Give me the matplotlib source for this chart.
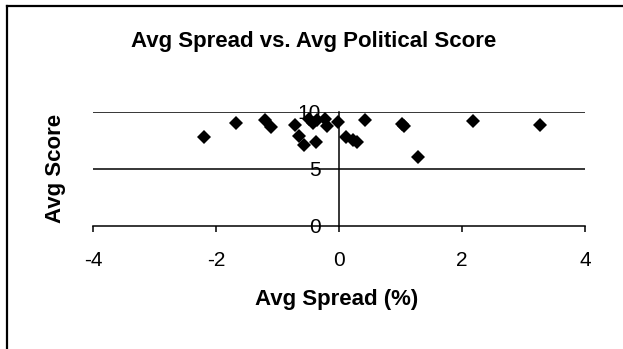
import matplotlib
matplotlib.use("Agg")
import matplotlib.pyplot as plt
from matplotlib.lines import Line2D

# Average spread (%) and average political score per entity
avg_spread = [-2.19, -1.67, -1.20, -1.10, -0.71, -0.65, -0.57, -0.38, -0.49, -0.43,
              -0.35, -0.22, -0.19, -0.02, 0.12, 0.22, 0.29, 0.43, 1.02, 1.06,
              1.28, 2.18, 3.27]
avg_score = [7.75, 9.0, 9.25, 8.65, 8.87, 7.9, 7.05, 7.35, 9.4, 9.0,
             9.3, 9.4, 8.75, 9.1, 7.8, 7.55, 7.3, 9.25, 8.9, 8.7,
             6.0, 9.15, 8.85]

x_ticks = [-4, -2, 0, 2, 4]
y_ticks = [0, 5, 10]

plt.rcParams['font.family'] = ['Liberation Sans', 'DejaVu Sans']

W, H = 623, 349
fig = plt.figure(figsize=(W / 100, H / 100), dpi=100)
fig.patch.set_facecolor('white')

# plot area in pixel terms
left, right, top, bottom = 93, 585, 111.7, 225.5
ax = fig.add_axes([left / W, 1 - bottom / H, (right - left) / W, (bottom - top) / H])
ax.set_xlim(-4, 4)
ax.set_ylim(0, 10)

for s in ['top', 'right']:
    ax.spines[s].set_visible(False)
ax.spines['left'].set_position(('data', 0))
ax.spines['left'].set_linewidth(1.1)
ax.spines['bottom'].set_linewidth(1.1)

ax.set_xticks(x_ticks)
ax.set_xticklabels([str(v) for v in x_ticks])
ax.set_yticks(y_ticks)
ax.set_yticklabels([str(v) for v in y_ticks])
ax.tick_params(axis='x', direction='out', length=4, width=1.1, pad=14, labelsize=15)
ax.tick_params(axis='y', length=0, pad=13, labelsize=15)

for v in y_ticks[1:]:
    ax.axhline(v, color='black', lw=1.1, zorder=1)

ax.plot(avg_spread, avg_score, linestyle='none', marker='D', markersize=7,
        color='black', markeredgewidth=0, clip_on=False, zorder=3)

fig.text(314 / W, 1 - 42 / H, 'Avg Spread vs. Avg Political Score',
         ha='center', va='center', fontsize=16, fontweight='bold')
fig.text(337 / W, 1 - 300 / H, 'Avg Spread (%)',
         ha='center', va='center', fontsize=16, fontweight='bold')
fig.text(55 / W, 1 - 168 / H, 'Avg Score', rotation=90,
         ha='center', va='center', fontsize=16, fontweight='bold')

# outer chart border (left and top edges)
fig.add_artist(Line2D([6.5 / W, 6.5 / W], [0, 1 - 5.5 / H], transform=fig.transFigure,
                      color='black', lw=1.6))
fig.add_artist(Line2D([6.5 / W, 1], [1 - 5.5 / H, 1 - 5.5 / H], transform=fig.transFigure,
                      color='black', lw=1.6))

fig.savefig('out.png', dpi=100, facecolor='white')
